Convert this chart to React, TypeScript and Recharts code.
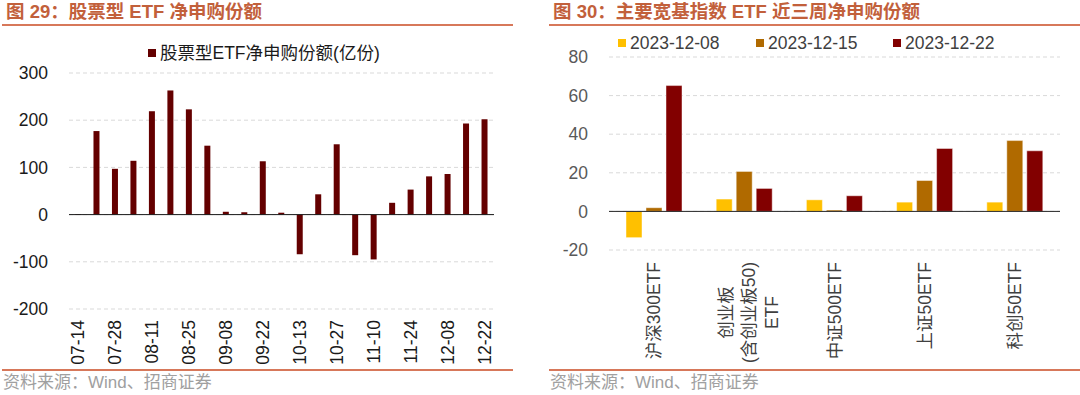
import React from "react";
import { BarChart, Bar, XAxis, YAxis, CartesianGrid, ReferenceLine } from "recharts";

const FONT = '"Liberation Sans", Arial, "Noto Sans CJK SC", sans-serif';
const TITLE_COLOR = "#c2603b";
const RULE_COLOR = "#d7785a";

// 图29 股票型ETF净申购份额（亿份），按周
const weeks = [
  "07-14", "07-21", "07-28", "08-04", "08-11", "08-18", "08-25", "09-01",
  "09-08", "09-15", "09-22", "09-28", "10-13", "10-20", "10-27", "11-03",
  "11-10", "11-17", "11-24", "12-01", "12-08", "12-15", "12-22",
];
const netSubscription = [
  1, 177, 97, 114, 219, 263, 223, 146, 6, 5, 113, 4, -84, 43, 149, -86, -95, 25, 53, 81, 86, 193, 202,
];
const leftTicks = [-200, -100, 0, 100, 200, 300];

// 图30 主要宽基指数ETF近三周净申购份额
const indexNames = ["沪深300ETF", "创业板\n(含创业板50)\nETF", "中证500ETF", "上证50ETF", "科创50ETF"];
const week1208 = [-13.6, 6.4, 6.0, 4.8, 4.8];
const week1215 = [1.9, 20.7, 0.7, 16.0, 36.7];
const week1222 = [65.2, 11.9, 8.1, 32.6, 31.4];
const rightTicks = [-20, 0, 20, 40, 60, 80];

const rightSeries = [
  { key: "d1208", name: "2023-12-08", color: "#ffc000" },
  { key: "d1215", name: "2023-12-15", color: "#b06a00" },
  { key: "d1222", name: "2023-12-22", color: "#820000" },
];

const leftData = weeks.map((w, i) => ({ week: w, value: netSubscription[i] }));
const rightData = indexNames.map((n, i) => ({
  name: n,
  d1208: week1208[i],
  d1215: week1215[i],
  d1222: week1222[i],
}));

let ctx: CanvasRenderingContext2D | null = null;
function textWidth(s: string, size: number) {
  if (!ctx) ctx = document.createElement("canvas").getContext("2d");
  if (!ctx) return s.length * size * 0.6;
  ctx.font = `${size}px ${FONT}`;
  return ctx.measureText(s).width;
}

function WeekTick({ x, y, payload }: any) {
  return (
    <text
      transform={`translate(${x},${y}) rotate(-90)`}
      textAnchor="end"
      dominantBaseline="central"
      fontSize={17.5}
      fontFamily={FONT}
      fill="#1a1a1a"
    >
      {payload.value}
    </text>
  );
}

function IndexTick({ x, y, payload }: any) {
  const lines = String(payload.value).split("\n");
  const size = 17.5;
  if (lines.length === 1) {
    return (
      <text
        transform={`translate(${x},${y}) rotate(-90)`}
        textAnchor="end"
        dominantBaseline="central"
        fontSize={size}
        fontFamily={FONT}
        fill="#404040"
      >
        {lines[0]}
      </text>
    );
  }
  // 多行标签：整体居中，最长一行顶端与单行标签对齐
  const longest = Math.max(...lines.map((l) => textWidth(l, size)));
  const lh = 23;
  return (
    <g transform={`translate(${x + 5},${y + longest / 2}) rotate(-90)`}>
      {lines.map((l, i) => (
        <text
          key={i}
          x={0}
          y={(i - (lines.length - 1) / 2) * lh}
          textAnchor="middle"
          dominantBaseline="central"
          fontSize={size}
          fontFamily={FONT}
          fill="#404040"
        >
          {l}
        </text>
      ))}
    </g>
  );
}

function Title({ text, left, width }: { text: string; left: number; width: number }) {
  return (
    <>
      <div
        style={{
          position: "absolute",
          left: left + 4,
          top: 1,
          fontSize: 18.5,
          fontWeight: "bold",
          color: TITLE_COLOR,
          fontFamily: FONT,
          whiteSpace: "nowrap",
          lineHeight: "22px",
        }}
      >
        {text}
      </div>
      <div style={{ position: "absolute", left, top: 24, width, height: 2, background: RULE_COLOR }} />
      <div style={{ position: "absolute", left, top: 369, width, height: 2, background: RULE_COLOR }} />
      <div
        style={{
          position: "absolute",
          left: left + 1,
          top: 372,
          fontSize: 17,
          color: "#a0a0a0",
          fontFamily: FONT,
          whiteSpace: "nowrap",
          lineHeight: "22px",
        }}
      >
        资料来源：Wind、招商证券
      </div>
    </>
  );
}

function LegendItem({ left, top, color, label, textColor }: any) {
  return (
    <div style={{ position: "absolute", left, top, display: "flex", alignItems: "center", whiteSpace: "nowrap" }}>
      <div style={{ width: 8, height: 8, background: color, marginRight: 4 }} />
      <span style={{ fontSize: 17.5, fontFamily: FONT, color: textColor, lineHeight: "20px" }}>{label}</span>
    </div>
  );
}

export default function App() {
  return (
    <div style={{ position: "absolute", left: 0, top: 0, width: 1080, height: 395, background: "#fff", overflow: "hidden" }}>
      <Title text="图 29：股票型 ETF 净申购份额" left={2} width={511} />
      <Title text="图 30：主要宽基指数 ETF 近三周净申购份额" left={549} width={531} />

      <div style={{ position: "absolute", left: 0, top: 0 }}>
        <BarChart
          width={520}
          height={395}
          data={leftData}
          margin={{ top: 73, right: 26, bottom: 6, left: 0 }}
        >
          <CartesianGrid vertical={false} stroke="#d9d9d9" strokeDasharray="4 3" />
          <YAxis
            domain={[-200, 300]}
            ticks={leftTicks}
            width={69}
            axisLine={false}
            tickLine={false}
            tickSize={0}
            tickMargin={21}
            tick={{ fontSize: 17.5, fill: "#1a1a1a", fontFamily: FONT }}
          />
          <XAxis
            dataKey="week"
            interval={1}
            height={80}
            axisLine={false}
            tickLine={false}
            tickSize={0}
            tickMargin={11}
            tick={<WeekTick />}
          />
          <ReferenceLine y={0} stroke="#1a1a1a" strokeWidth={1} />
          <Bar dataKey="value" fill="#640000" barSize={6} isAnimationActive={false} name="股票型ETF净申购份额(亿份)" />
        </BarChart>
      </div>
      <LegendItem left={148} top={43} color="#640000" label="股票型ETF净申购份额(亿份)" textColor="#1a1a1a" />

      <div style={{ position: "absolute", left: 540, top: 0 }}>
        <BarChart
          width={540}
          height={395}
          data={rightData}
          margin={{ top: 57, right: 20, bottom: 5, left: 0 }}
          barGap={4}
        >
          <CartesianGrid vertical={false} stroke="#d9d9d9" strokeDasharray="4 3" />
          <YAxis
            domain={[-20, 80]}
            ticks={rightTicks}
            width={69}
            axisLine={false}
            tickLine={false}
            tickSize={0}
            tickMargin={21}
            tick={{ fontSize: 17.5, fill: "#595959", fontFamily: FONT }}
          />
          <XAxis
            dataKey="name"
            interval={0}
            height={140}
            axisLine={false}
            tickLine={false}
            tickSize={0}
            tickMargin={12}
            tick={<IndexTick />}
          />
          <ReferenceLine y={0} stroke="#262626" strokeWidth={1} />
          {rightSeries.map((s) => (
            <Bar
              key={s.key}
              dataKey={s.key}
              name={s.name}
              fill={s.color}
              stroke="rgba(255,255,255,0.45)"
              strokeWidth={1}
              barSize={16}
              isAnimationActive={false}
            />
          ))}
        </BarChart>
      </div>
      {rightSeries.map((s, i) => (
        <LegendItem
          key={s.key}
          left={[618, 756, 893][i]}
          top={33}
          color={s.color}
          label={s.name}
          textColor="#404040"
        />
      ))}
    </div>
  );
}
